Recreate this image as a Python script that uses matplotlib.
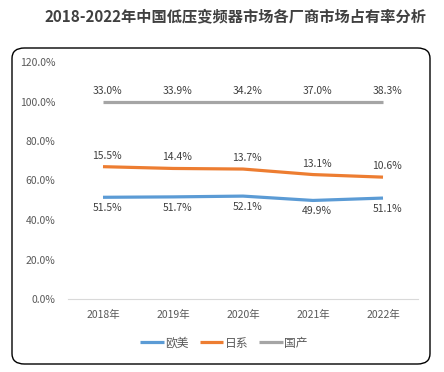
import numpy as np
import matplotlib
matplotlib.use("Agg")
import matplotlib.pyplot as plt
from matplotlib.patches import FancyBboxPatch
from matplotlib.ticker import FuncFormatter

plt.rcParams['font.family'] = ['Noto Sans CJK SC', 'DejaVu Sans']

years = ['2018年', '2019年', '2020年', '2021年', '2022年']
series_names = ['欧美', '日系', '国产']
europe_us = [51.5, 51.7, 52.1, 49.9, 51.1]
japan = [15.5, 14.4, 13.7, 13.1, 10.6]
domestic = [33.0, 33.9, 34.2, 37.0, 38.3]
colors = ['#5B9BD5', '#ED7D31', '#A5A5A5']
title = '2018-2022年中国低压变频器市场各厂商市场占有率分析'

fig = plt.figure(figsize=(4.44, 3.72), dpi=100)
W, H = 444, 372

# rounded border
box = FancyBboxPatch((12 / W, 1 - 364 / H), 418 / W, 316 / H,
                     boxstyle="round,pad=0,rounding_size=0.028",
                     transform=fig.transFigure, fill=False,
                     edgecolor='black', linewidth=1.0)
fig.patches.append(box)

fig.text(235 / W, 1 - 16 / H, title, ha='center', va='center',
         fontsize=10.95, fontweight='bold', color='#404040')

ax = fig.add_axes([68 / W, 1 - 299 / H, 350 / W, 237 / H])
x = np.arange(len(years))
data = np.array([europe_us, japan, domestic]) / 100.0
stacked = np.cumsum(data, axis=0)

for i in range(3):
    ax.plot(x, stacked[i], color=colors[i], linewidth=2.3,
            solid_capstyle='butt', label=series_names[i])

for i in range(3):
    for j in range(len(years)):
        dy = -11 if i == 0 else 11
        ax.annotate(f'{data[i][j]*100:.1f}%', (x[j], stacked[i][j]),
                    xytext=(3, dy * 0.72), textcoords='offset points',
                    ha='center', va='center', fontsize=7.5, color='#404040')

ax.set_xlim(-0.5, len(years) - 0.5)
ax.set_ylim(0, 1.2)
ax.set_yticks(np.arange(0, 1.21, 0.2))
ax.yaxis.set_major_formatter(FuncFormatter(lambda v, p: f'{v*100:.1f}%'))
ax.set_xticks(x)
ax.set_xticklabels(years)
for s in ['left', 'right', 'top']:
    ax.spines[s].set_visible(False)
ax.spines['bottom'].set_color('#D9D9D9')
ax.tick_params(axis='both', length=0, labelsize=7.5, labelcolor='#595959')
ax.tick_params(axis='y', pad=9)
ax.tick_params(axis='x', pad=8)
ax.patch.set_alpha(0)

fig.legend(loc='center', bbox_to_anchor=(224 / W, 1 - 343 / H), ncol=3,
           frameon=False, fontsize=8.5, handlelength=2.0, handletextpad=0.15,
           columnspacing=0.9, labelcolor='#595959')

fig.savefig('out.png', dpi=100)
